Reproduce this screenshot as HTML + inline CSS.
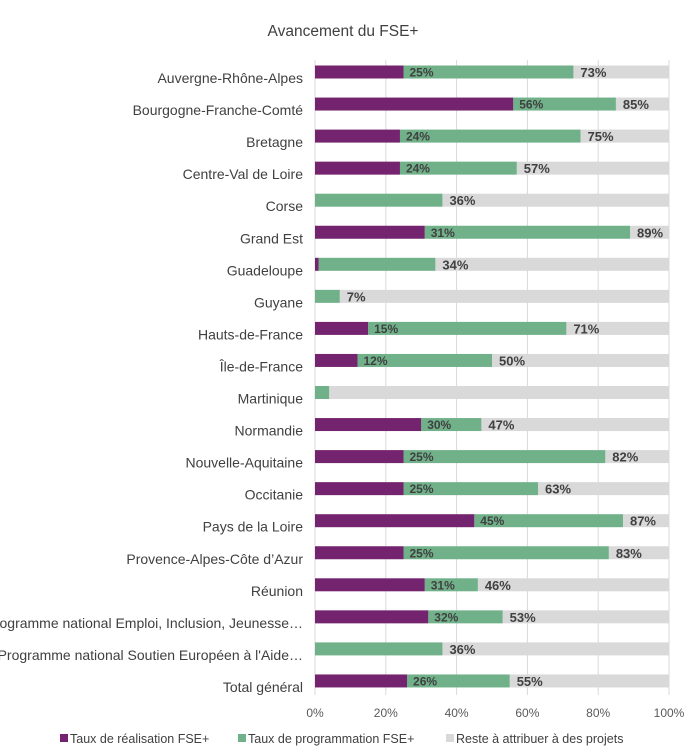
<!DOCTYPE html>
<html><head><meta charset="utf-8"><style>
body{margin:0;background:#fff;}
svg{display:block;font-family:"Liberation Sans",sans-serif;}
</style></head><body>
<svg id="chart" width="691" height="751">
<text x="343" y="36" text-anchor="middle" font-size="15.5" fill="#404040">Avancement du FSE+</text>
<g id="grid"></g><g id="bars"></g><g id="labels"></g><g id="ticks"></g>
<g>
<rect x="60" y="734" width="8" height="8" fill="#74246e"/>
<text x="70" y="743" font-size="12.5" fill="#404040">Taux de réalisation FSE+</text>
<rect x="238" y="734" width="8" height="8" fill="#70b18a"/>
<text x="248" y="743" font-size="12.5" fill="#404040">Taux de programmation FSE+</text>
<rect x="446" y="734" width="8" height="8" fill="#d9d9d9"/>
<text x="456" y="743" font-size="12.5" fill="#404040">Reste à attribuer à des projets</text>
</g>
</svg>
<script>
const categories=["Auvergne-Rhône-Alpes","Bourgogne-Franche-Comté","Bretagne","Centre-Val de Loire","Corse","Grand Est","Guadeloupe ","Guyane","Hauts-de-France","Île-de-France","Martinique","Normandie","Nouvelle-Aquitaine","Occitanie","Pays de la Loire","Provence-Alpes-Côte d’Azur","Réunion","Programme national Emploi, Inclusion, Jeunesse…","Programme national Soutien Européen à l'Aide…","Total général"];
const realisation=[25,56,24,24,0,31,1,0,15,12,0,30,25,25,45,25,31,32,0,26];
const programmation=[73,85,75,57,36,89,34,7,71,50,4,47,82,63,87,83,46,53,36,55];
const tickValues=[0,20,40,60,80,100];
const NS="http://www.w3.org/2000/svg";
const x0=315,x1=669,y0=72,step=32.05,bh=13;
const xs=v=>x0+(x1-x0)*v/100;
const ys=i=>y0+i*step;
function mk(tag,attrs,parent,text){const e=document.createElementNS(NS,tag);for(const k in attrs)e.setAttribute(k,attrs[k]);if(text!==undefined)e.textContent=text;document.getElementById(parent).appendChild(e);return e;}
tickValues.forEach(t=>{
 const l=mk('line',{x1:xs(t),x2:xs(t),y1:60,y2:695,stroke:'#d9d9d9','stroke-width':1},'grid');
 
 
 const tx=mk('text',{x:xs(t),y:717,'text-anchor':'middle','font-size':12,fill:'#595959'},'ticks',t+'%');
 
 
});
categories.forEach((c,i)=>{
 const y=ys(i),r=realisation[i],p=programmation[i];
 const lab=mk('text',{x:303,y:y+11,'text-anchor':'end','font-size':14,fill:'#404040'},'labels',c);
 
 
 const g=mk('rect',{x:xs(p),y:y-bh/2,width:xs(100)-xs(p),height:bh,fill:'#d9d9d9'},'bars');
 
 
 const gr=mk('rect',{x:xs(r),y:y-bh/2,width:xs(p)-xs(r),height:bh,fill:'#70b18a'},'bars');
 
 
 if(r>0){const pr=mk('rect',{x:xs(0),y:y-bh/2,width:xs(r)-xs(0),height:bh,fill:'#74246e'},'bars');
 
 }
 if(r>=5){const t=mk('text',{x:xs(r)+6,y:y+4.5,'font-size':12,'font-weight':'bold',fill:'#404040'},'labels',r+'%');
 
 }
 if(p>=5){const t=mk('text',{x:xs(p)+7,y:y+5,'font-size':13,'font-weight':'bold',fill:'#404040'},'labels',p+'%');
 
 }
});
</script>
</body></html>
